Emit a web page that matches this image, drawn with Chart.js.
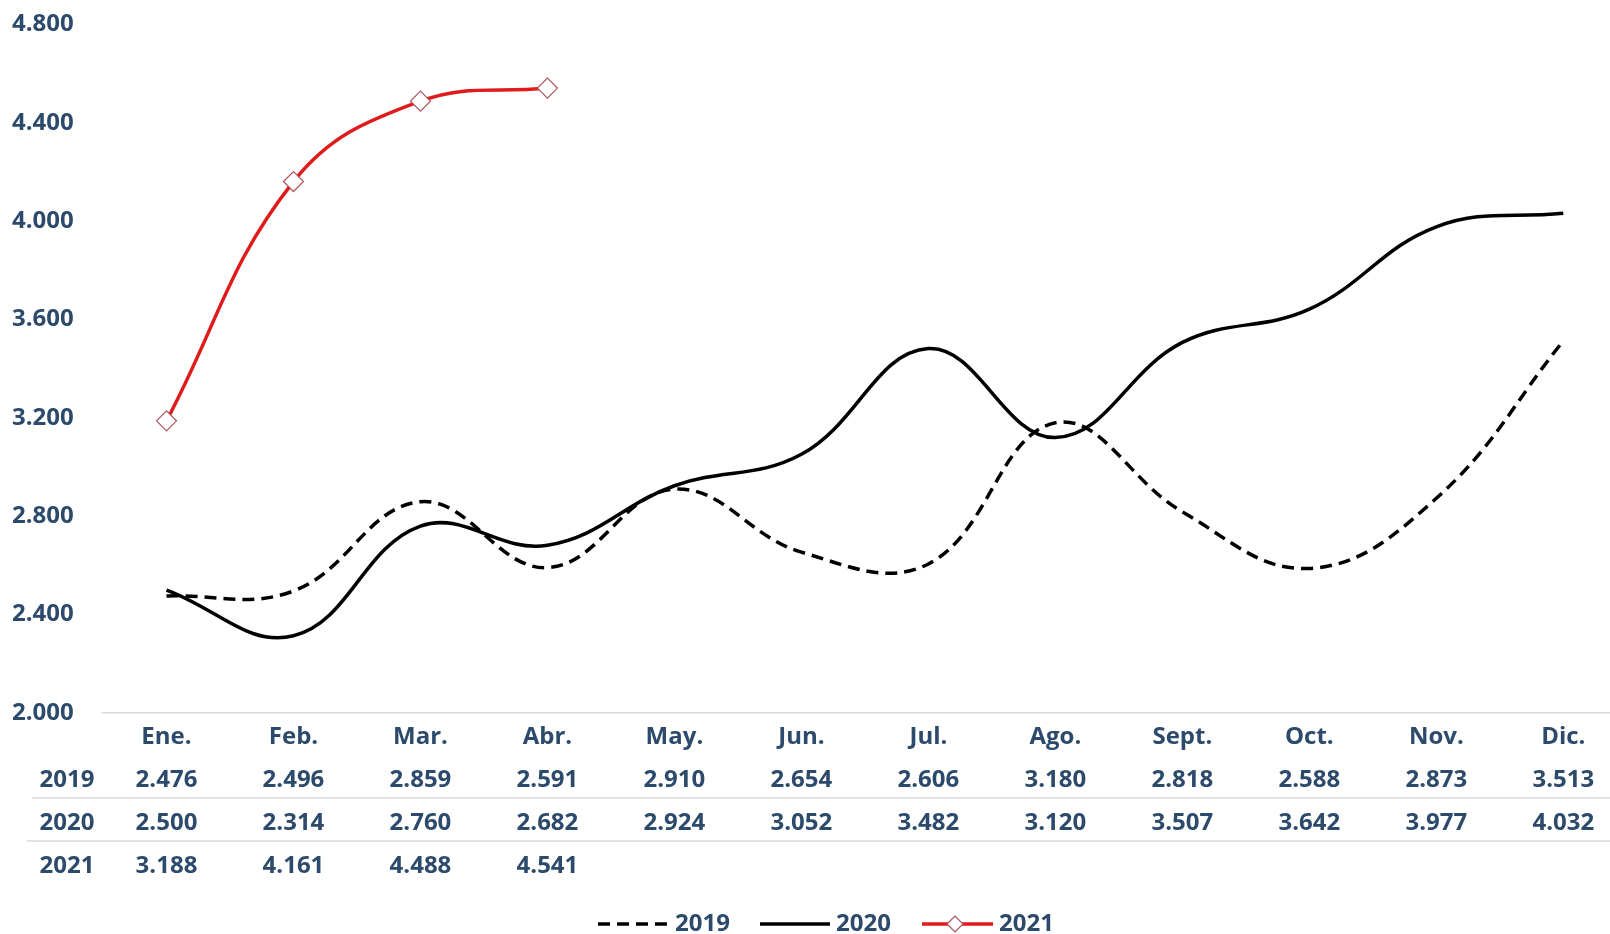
<!DOCTYPE html>
<html>
<head>
<meta charset="utf-8">
<script src="https://cdn.jsdelivr.net/npm/chart.js@4.4.0/dist/chart.umd.min.js"></script>
<style>
  html, body { margin: 0; padding: 0; background: #fff; overflow: hidden; }
  #wrap { width: 1638px; height: 934px; }
</style>
</head>
<body>
<div id="wrap"><canvas id="chart" width="1638" height="934"></canvas></div>
<script>
// Datos del gráfico
const meses = ['Ene.', 'Feb.', 'Mar.', 'Abr.', 'May.', 'Jun.', 'Jul.', 'Ago.', 'Sept.', 'Oct.', 'Nov.', 'Dic.'];
const anios = ['2019', '2020', '2021'];
const valores2019 = [2476, 2496, 2859, 2591, 2910, 2654, 2606, 3180, 2818, 2588, 2873, 3513];
const valores2020 = [2500, 2314, 2760, 2682, 2924, 3052, 3482, 3120, 3507, 3642, 3977, 4032];
const valores2021 = [3188, 4161, 4488, 4541];
const ejeYMin = 2000;
const ejeYMax = 4800;
const ejeYPaso = 400;

const AZUL = '#2c4a6b';
const ROJO = '#e01b1b';
const BORDE_ROMBO = '#b0545a';
const FUENTE = '"Open Sans", sans-serif';
const TAM = 24;

// formato con punto de miles: 2476 -> 2.476
function fmt(v) {
    return v.toLocaleString('de-DE', { minimumFractionDigits: 0 });
}

// --- Tabla de datos y leyenda bajo el gráfico ---
const tablaPlugin = {
    id: 'tablaDatos',
    afterDraw(chart) {
        const ctx = chart.ctx;
        const x = chart.scales.x;
        const filasY = [780, 823, 866];
        const series = [valores2019, valores2020, valores2021];

        ctx.save();
        // separadores de filas
        ctx.strokeStyle = '#d9d9d9';
        ctx.lineWidth = 1.5;
        ctx.beginPath();
        ctx.moveTo(32, 798); ctx.lineTo(1638, 798);
        ctx.moveTo(27, 841); ctx.lineTo(1638, 841);
        ctx.stroke();

        ctx.font = `bold ${TAM}px ${FUENTE}`;
        ctx.fillStyle = AZUL;
        ctx.textAlign = 'center';
        ctx.textBaseline = 'middle';
        series.forEach((vals, f) => {
            ctx.fillText(anios[f], 67, filasY[f]);
            vals.forEach((v, i) => {
                ctx.fillText(fmt(v), x.getPixelForValue(i), filasY[f]);
            });
        });

        // leyenda
        const ly = 924;
        ctx.lineWidth = 3.5;
        ctx.strokeStyle = '#000';
        ctx.setLineDash([12, 7]);
        ctx.beginPath(); ctx.moveTo(598, ly); ctx.lineTo(669, ly); ctx.stroke();
        ctx.setLineDash([]);
        ctx.beginPath(); ctx.moveTo(760, ly); ctx.lineTo(830, ly); ctx.stroke();
        ctx.strokeStyle = ROJO;
        ctx.beginPath(); ctx.moveTo(922, ly); ctx.lineTo(993, ly); ctx.stroke();
        // rombo
        ctx.fillStyle = '#fff';
        ctx.strokeStyle = BORDE_ROMBO;
        ctx.lineWidth = 1.2;
        ctx.beginPath();
        ctx.moveTo(955 - 8, ly); ctx.lineTo(955, ly - 8); ctx.lineTo(955 + 8, ly); ctx.lineTo(955, ly + 8);
        ctx.closePath(); ctx.fill(); ctx.stroke();

        ctx.fillStyle = AZUL;
        ctx.textAlign = 'left';
        ctx.fillText('2019', 675, ly);
        ctx.fillText('2020', 836, ly);
        ctx.fillText('2021', 999, ly);
        ctx.restore();
    }
};

const ctx = document.getElementById('chart').getContext('2d');
new Chart(ctx, {
    type: 'line',
    data: {
        labels: meses,
        datasets: [
            {
                label: '2019',
                data: valores2019,
                borderColor: '#000',
                borderWidth: 3.5,
                borderDash: [12, 7],
                pointRadius: 0,
                tension: 0.4,
                order: 3
            },
            {
                label: '2020',
                data: valores2020,
                borderColor: '#000',
                borderWidth: 3.5,
                pointRadius: 0,
                tension: 0.4,
                order: 2
            },
            {
                label: '2021',
                data: valores2021,
                borderColor: ROJO,
                borderWidth: 3.5,
                pointStyle: 'rectRot',
                pointRadius: 10,
                pointBackgroundColor: '#fff',
                pointBorderColor: BORDE_ROMBO,
                pointBorderWidth: 1.2,
                tension: 0.4,
                order: 1
            }
        ]
    },
    options: {
        responsive: false,
        animation: false,
        layout: { padding: { top: 10, left: 12, right: 0, bottom: 0 } },
        plugins: {
            legend: { display: false },
            tooltip: { enabled: false }
        },
        scales: {
            x: {
                offset: true,
                grid: { display: false, drawTicks: false },
                border: { display: true, color: '#d9d9d9', width: 1.5 },
                ticks: {
                    color: AZUL,
                    font: { family: FUENTE, size: TAM, weight: 'bold' },
                    padding: 10,
                    maxRotation: 0,
                    autoSkip: false
                },
                afterFit(scale) { scale.height = 221; }
            },
            y: {
                min: ejeYMin,
                max: ejeYMax,
                grid: { display: false, drawTicks: false },
                border: { display: false },
                ticks: {
                    stepSize: ejeYPaso,
                    color: AZUL,
                    font: { family: FUENTE, size: TAM, weight: 'bold' },
                    crossAlign: 'far',
                    padding: 10,
                    callback: (v) => fmt(v)
                },
                afterFit(scale) { scale.width = 91; }
            }
        }
    },
    plugins: [tablaPlugin]
});
</script>
</body>
</html>
